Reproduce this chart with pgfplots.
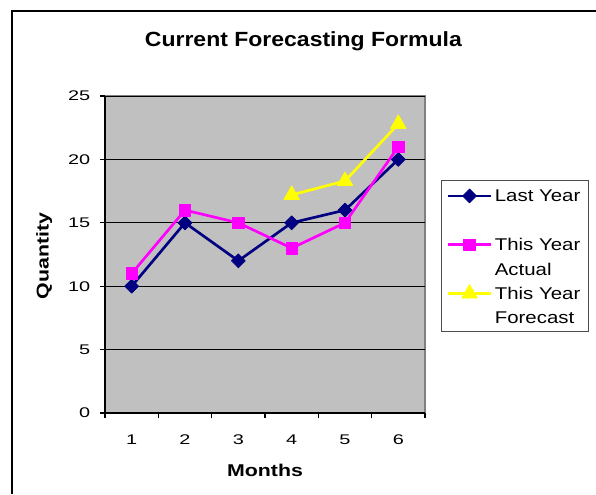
\documentclass[border=0pt]{standalone}
\usepackage{pgfplots}
\pgfplotsset{compat=1.18}
\usepackage{fontspec}
\setmainfont{Liberation Sans}
\newfontfamily\tickf{Liberation Sans}[FakeStretch=1.42]
\newfontfamily\labf{Liberation Sans}[FakeStretch=1.25]
\newfontfamily\legf{Liberation Sans}[FakeStretch=1.2]
\newfontfamily\titf{Liberation Sans}[FakeStretch=1.12]
\definecolor{navyc}{HTML}{000080}
\definecolor{magc}{HTML}{FF00FF}
\definecolor{yelc}{HTML}{FFFF00}
\definecolor{bgc}{HTML}{C0C0C0}
\definecolor{frc}{HTML}{808080}
\begin{document}
\begin{tikzpicture}
\useasboundingbox (0,0) rectangle (447pt,370.5pt);
\draw[line width=1.1pt] (9pt,0) -- (9pt,362.25pt) -- (447pt,362.25pt);
\begin{axis}[
  at={(78.75pt,60.75pt)}, anchor=south west,
  scale only axis, width=240pt, height=237.75pt,
  xmin=0.5, xmax=6.5, ymin=0, ymax=25,
  axis x line*=bottom, axis y line*=left,
  axis line style={black, line width=1pt},
  axis background/.style={fill=bgc, draw=frc, line width=0.8pt},
  xtick={0.5,1.5,...,6.5}, xticklabels={1,2,3,4,5,6},
  x tick label as interval,
  ytick={0,5,...,25},
  tick align=outside, major tick length=4pt,
  tick style={black, line width=0.8pt},
  ymajorgrids, major grid style={black, line width=0.7pt},
  /pgf/number format/assume math mode=true,
  ticklabel style={font=\tickf\fontsize{10.5}{12}\selectfont},
  yticklabel style={xshift=-3.5pt},
  xticklabel style={yshift=-9pt},
  xlabel={\labf\bfseries Months},
  ylabel={\labf\bfseries Quantity},
  label style={font=\fontsize{12.8}{15}\selectfont},
  xlabel style={at={(axis description cs:0.5,-0.18)}, anchor=center},
  ylabel style={at={(axis description cs:-0.19,0.495)}, anchor=center},
  legend style={at={(axis description cs:1.05,0.735)}, anchor=north west,
    draw=black!70, line width=0.8pt, fill=white,
    font=\legf\fontsize{12.75}{16.5}\selectfont,
    inner xsep=4pt, inner ysep=4.5pt, row sep=5.25pt,
    nodes={inner ysep=0pt},
    cells={anchor=base west},
    /tikz/every even column/.append style={column sep=4pt}},
  legend image code/.code={\draw[mark repeat=2,mark phase=2] plot coordinates {(0pt,4.5pt)(16pt,4.5pt)(32pt,4.5pt)};},
  every axis plot/.append style={line width=2pt, line join=round},
  clip=false,
]
\addplot[navyc, mark=square*, mark size=3.7pt, mark options={rotate=45, solid, line width=0.5pt}]
  coordinates {(1,10)(2,15)(3,12)(4,15)(5,16)(6,20)};
\addlegendentry{\strut Last Year}
\addlegendimage{empty legend}
\addlegendentry{\strut}
\addplot[magc, mark=square*, mark size=4.3pt, mark options={solid, line width=0.5pt}]
  coordinates {(1,11)(2,16)(3,15)(4,13)(5,15)(6,21)};
\addlegendentry{\strut This Year}
\addlegendimage{empty legend}
\addlegendentry{\strut Actual}
\addplot[yelc, mark=triangle*, mark size=6.8pt, mark options={solid, line width=0.5pt}]
  coordinates {(4,17.2)(5,18.3)(6,22.8)};
\addlegendentry{\strut This Year}
\addlegendimage{empty legend}
\addlegendentry{\strut Forecast}
\node[anchor=base, font=\titf\bfseries\fontsize{15.4}{18}\selectfont]
  at (axis description cs:0.62,1.1546) {Current Forecasting Formula};
\end{axis}
\end{tikzpicture}
\end{document}
